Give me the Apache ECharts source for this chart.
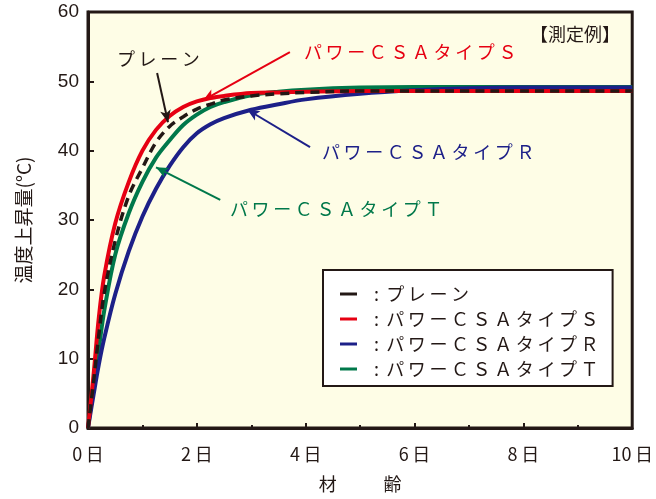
<!DOCTYPE html>
<html><head><meta charset="utf-8">
<script src="https://cdn.jsdelivr.net/npm/echarts@6/dist/echarts.min.js"></script>
<style>html,body{margin:0;padding:0;background:#fff}#c{width:656px;height:499px}</style>
</head><body><div id="c"></div>
<script>
// ---- data ----
var days = [0, 0.1, 0.2, 0.3, 0.5, 0.75, 1, 1.25, 1.5, 1.75, 2, 2.25, 2.5, 3, 3.5, 4, 5, 6, 7, 8, 10];
var plain  = [0, 6.5, 13.5, 19.5, 27, 33.5, 37.5, 41.2, 43.5, 44.9, 46, 46.7, 47.3, 47.9, 48.2, 48.4, 48.6, 48.6, 48.6, 48.6, 48.6];
var typeS  = [0, 7.5, 16, 22, 29.5, 35.5, 40, 43, 45, 46.3, 47.1, 47.6, 47.9, 48.3, 48.4, 48.5, 48.6, 48.6, 48.6, 48.6, 48.6];
var typeR  = [0, 4.7, 9.2, 13, 19.3, 25.5, 30.5, 34.5, 37.8, 40.5, 42.5, 43.8, 44.7, 45.9, 46.7, 47.4, 48.2, 48.7, 49.0, 49.1, 49.1];
var typeT  = [0, 6, 11.5, 17, 25, 31, 35.5, 39, 41.5, 43.7, 45.2, 46.3, 47, 48, 48.5, 48.8, 49.1, 49.2, 49.2, 49.2, 49.2];
var seriesNames = ['プレーン', 'パワーＣＳＡタイプＳ', 'パワーＣＳＡタイプＲ', 'パワーＣＳＡタイプＴ'];
var xTicks = [0, 2, 4, 6, 8, 10];
var yTicks = [0, 10, 20, 30, 40, 50, 60];
// annotation arrows [start, end] in data coords
var arrowPlain = [[1.27, 51.2], [1.47, 44.1]];
var arrowS = [[3.71, 54.2], [2.12, 47.3]];
var arrowR = [[4.08, 40.5], [2.93, 45.9]];
var arrowT = [[2.43, 32.9], [1.25, 37.6]];

var colors = ['#231815', '#e60012', '#1d2088', '#00784a'];
var JP = '"Noto Sans CJK JP", "Noto Sans", sans-serif';
var LAT = '"Liberation Sans", Arial, sans-serif';
function sp(s){ return s.split('').join('\u2009'); }
function pairs(arr){ return days.map(function(d,i){ return [d, arr[i]]; }); }
function arrowLine(a, color){
  return {
    silent: true, symbol: ['none', 'arrow'], symbolSize: [8, 12],
    label: {show: false},
    lineStyle: {color: color, width: 2, type: 'solid'},
    data: [[{coord: a[0]}, {coord: a[1]}]]
  };
}

var chart = echarts.init(document.getElementById('c'));
var dataSets = [plain, typeS, typeR, typeT];
var arrows = [arrowPlain, arrowS, arrowR, arrowT];
var zs = [5, 4, 3, 2];
var series = seriesNames.map(function(n, i){
  return {
    name: n, type: 'line', smooth: 0.35, symbol: 'none',
    data: pairs(dataSets[i]),
    z: zs[i],
    lineStyle: {color: colors[i], width: i === 0 ? 3.5 : 4, type: i === 0 ? [9, 6] : 'solid'},
    itemStyle: {color: colors[i]},
    markLine: arrowLine(arrows[i], colors[i])
  };
});

chart.setOption({
  animation: false,
  backgroundColor: '#fff',
  color: colors,
  grid: {left: 88, right: 16, top: 12, bottom: 71, show: true, backgroundColor: '#fefde6',
         borderColor: '#231815', borderWidth: 3},
  xAxis: {
    type: 'value', min: 0, max: 10, interval: 2,
    name: sp('材　　齢'), nameLocation: 'middle', nameGap: 47,
    nameTextStyle: {fontFamily: JP, fontSize: 18, color: '#231815'},
    axisLine: {show: true, onZero: false, lineStyle: {color: '#231815', width: 3}},
    axisTick: {show: true, inside: true, length: 5, lineStyle: {color: '#231815', width: 2}},
    minorTick: {show: true, splitNumber: 2, length: 3, lineStyle: {color: '#231815', width: 2}},
    axisLabel: {margin: 17, fontFamily: JP, fontSize: 18, color: '#231815',
      formatter: function(v){ return xTicks.indexOf(v) >= 0 ? v + '\u2009日' : ''; }},
    splitLine: {show: false}
  },
  yAxis: {
    type: 'value', min: 0, max: 60, interval: 10,
    name: '温度上昇量(°C)', nameLocation: 'middle', nameGap: 55, nameRotate: 90,
    nameTextStyle: {fontFamily: JP, fontSize: 19, color: '#231815'},
    axisLine: {show: true, lineStyle: {color: '#231815', width: 3}},
    axisTick: {show: true, inside: true, length: 6, lineStyle: {color: '#231815', width: 2}},
    axisLabel: {margin: 9, fontFamily: LAT, fontSize: 19, color: '#231815',
      formatter: function(v){ return yTicks.indexOf(v) >= 0 ? String(v) : ''; }},
    splitLine: {show: false}
  },
  legend: {
    orient: 'vertical', left: 323, top: 270,
    padding: [15, 14, 8, 17], itemGap: 7,
    backgroundColor: '#fff', borderColor: '#231815', borderWidth: 2,
    icon: 'rect', itemWidth: 17, itemHeight: 3,
    data: seriesNames,
    formatter: function(n){ return ':\u2009\u2009' + sp(n); },
    textStyle: {fontFamily: JP, fontSize: 18, color: '#231815', padding: [0, 0, 0, 12]}
  },
  graphic: [
    {type: 'text', left: 117, top: 50, style: {text: sp('プレーン'), font: '18px ' + JP, fill: '#231815'}},
    {type: 'text', left: 304, top: 43, style: {text: sp('パワーＣＳＡタイプＳ'), font: '18px ' + JP, fill: '#e60012'}},
    {type: 'text', left: 322, top: 143, style: {text: sp('パワーＣＳＡタイプＲ'), font: '18px ' + JP, fill: '#1d2088'}},
    {type: 'text', left: 230, top: 200, style: {text: sp('パワーＣＳＡタイプＴ'), font: '18px ' + JP, fill: '#00784a'}},
    {type: 'text', left: 530, top: 25, style: {text: '【測定例】', font: '18px ' + JP, fill: '#231815'}}
  ],
  series: series
});
</script></body></html>
